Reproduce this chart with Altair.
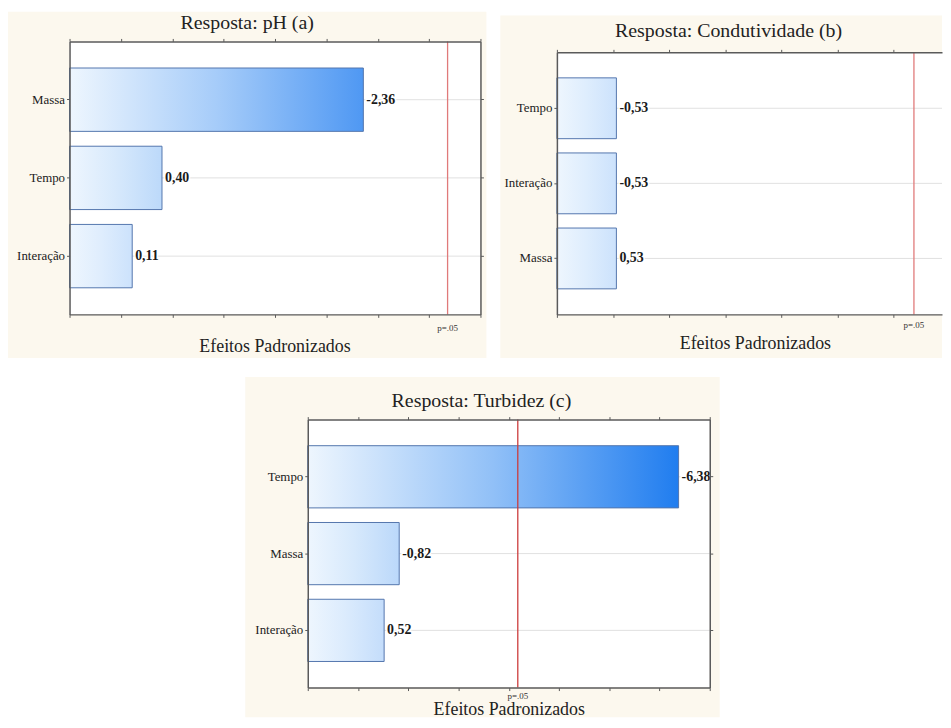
import altair as alt
import pandas as pd

# ---- data ----
a_factors = ["Massa", "Tempo", "Interação"]
a_effects = [-2.36, 0.40, 0.11]
b_factors = ["Tempo", "Interação", "Massa"]
b_effects = [-0.53, -0.53, 0.53]
c_factors = ["Tempo", "Massa", "Interação"]
c_effects = [-6.38, -0.82, 0.52]
titles = ["Resposta: pH (a)", "Resposta: Condutividade (b)", "Resposta: Turbidez (c)"]
axis_title = "Efeitos Padronizados"
p_label = "p=.05"
t_crit = 3.18
a_domain = [-0.5, 3.5]
b_domain = [0.0, 3.43]
c_domain = [-1.0, 7.0]
a_ticks = [-0.5, 0.0, 0.5, 1.0, 1.5, 2.0, 2.5, 3.0, 3.5]
b_ticks = [0.0, 0.5, 1.0, 1.5, 2.0, 2.5, 3.0]
c_ticks = [-1, 0, 1, 2, 3, 4, 5, 6, 7]

SERIF = "Liberation Serif"
BEIGE = "#fcf8ee"
AXC = "#5a5a5a"
LIGHT = (238, 246, 254)
DARK = (15, 115, 238)


def mix(f):
    f = max(0.0, min(1.0, f))
    c = [round(LIGHT[i] + (DARK[i] - LIGHT[i]) * f) for i in range(3)]
    return "#%02x%02x%02x" % tuple(c)


def grad(f):
    return alt.LinearGradient(
        gradient="linear", x1=0, x2=1, y1=0, y2=0,
        stops=[alt.GradientStop(color=mix(0.0), offset=0),
               alt.GradientStop(color=mix(f * 0.45), offset=0.5),
               alt.GradientStop(color=mix(f), offset=1)],
    )


def spacer(w, h):
    one = pd.DataFrame({"k": [0]})
    return alt.Chart(one).mark_rect(opacity=0).encode(
        x=alt.value(0), x2=alt.value(w), y=alt.value(0), y2=alt.value(h)
    ).properties(width=w, height=h)


def panel(factors, effects, title, dom, ticks, W, H, g, right_axis=True, red="#d65454"):
    df = pd.DataFrame({"fator": factors, "efeito": effects})
    df["abs"] = df["efeito"].abs()
    df["rotulo"] = [f"{v:.2f}".replace(".", ",") for v in effects]
    one = pd.DataFrame({"k": [0]})

    xs = alt.Scale(domain=dom, nice=False, zero=False)
    ys = alt.Scale(type="band", domain=factors, paddingInner=0.19, paddingOuter=0.34)
    xenc = alt.X("abs:Q", scale=xs,
                 axis=alt.Axis(title=None, labels=False, values=ticks, grid=False,
                               domain=True, domainColor=AXC, domainWidth=1.5,
                               ticks=True, tickColor=AXC, tickSize=3, zindex=1))
    yenc = alt.Y("fator:N", scale=ys, sort=factors,
                 axis=alt.Axis(title=None, grid=False, domain=True, domainColor=AXC,
                               domainWidth=1.5, ticks=True, tickColor=AXC, tickSize=3,
                               labelFont=SERIF, labelFontSize=13, labelColor="#222",
                               labelPadding=2, zindex=1))

    layers = []
    layers.append(alt.Chart(one).mark_rect(fill=BEIGE).encode(
        x=alt.value(-g["l"]), x2=alt.value(W + g["r"]),
        y=alt.value(-g["t"]), y2=alt.value(H + g["b"])))
    layers.append(alt.Chart(one).mark_rect(fill="white").encode(
        x=alt.value(0), x2=alt.value(W), y=alt.value(0), y2=alt.value(H)))
    layers.append(alt.Chart(df).mark_rule(color="#e1e1e1", strokeWidth=1).encode(
        y=yenc, x=alt.value(0), x2=alt.value(W)))
    for fac, val in zip(factors, effects):
        frac = (abs(val) - dom[0]) / (dom[1] - dom[0])
        layers.append(
            alt.Chart(df)
            .transform_filter(alt.FieldEqualPredicate(field="fator", equal=fac))
            .mark_bar(fill=grad(frac), stroke="#5476ad", strokeWidth=1)
            .encode(x=xenc, x2=alt.datum(dom[0]), y=yenc))
    layers.append(alt.Chart(one).mark_rule(color=red, strokeWidth=1.3).encode(
        x=alt.datum(t_crit), y=alt.value(0), y2=alt.value(H)))
    layers.append(alt.Chart(df).mark_text(
        align="left", baseline="middle", dx=3, font=SERIF, fontSize=14,
        fontWeight="bold", color="white", stroke="white", strokeWidth=3).encode(
        x=xenc, y=yenc, text="rotulo:N"))
    layers.append(alt.Chart(df).mark_text(
        align="left", baseline="middle", dx=3, font=SERIF, fontSize=14,
        fontWeight="bold", color="#1a1a1a").encode(x=xenc, y=yenc, text="rotulo:N"))
    layers.append(alt.Chart(one).mark_text(
        text=p_label, font=SERIF, fontSize=9, baseline="middle", align="center",
        color="#333").encode(x=alt.datum(t_crit), y=alt.value(H + g["p"])))
    layers.append(alt.Chart(one).mark_text(
        text=title, font=SERIF, fontSize=20, baseline="alphabetic", align="center",
        color="#222").encode(x=alt.value(g["tx"]), y=alt.value(g["ty"])))
    layers.append(alt.Chart(one).mark_text(
        text=axis_title, font=SERIF, fontSize=18, baseline="alphabetic", align="center",
        color="#222").encode(x=alt.value(g["ax"]), y=alt.value(H + g["ay"])))

    inner = alt.layer(*layers)

    ytop = alt.Y("fator:N", scale=ys, sort=factors,
                 axis=alt.Axis(orient="right", title=None, labels=False, grid=False,
                               domain=True, domainColor=AXC, domainWidth=1.5,
                               ticks=True, tickColor=AXC, tickSize=3, zindex=1)
                 if right_axis else None)
    tk = alt.Chart(df).mark_bar(opacity=0).encode(
        x=alt.X("abs:Q", scale=xs,
                axis=alt.Axis(orient="top", title=None, labels=False, values=ticks,
                              grid=False, domain=True, domainColor=AXC, domainWidth=1.5,
                              ticks=True, tickColor=AXC, tickSize=3, zindex=1)),
        x2=alt.datum(dom[0]),
        y=ytop)
    return (alt.layer(inner, tk)
            .resolve_scale(x="independent", y="independent")
            .properties(width=W, height=H))


Wa, Ha = 414, 275
Wb, Hb = 388, 264
Wc, Hc = 405, 270

pa = panel(a_factors, a_effects, titles[0], a_domain, a_ticks, Wa, Ha,
           dict(l=62, r=6, t=30, b=44, tx=179, ty=-13, ax=207, ay=38, p=14),
           red="#e07a7a")
pb = panel(b_factors, b_effects, titles[1], b_domain, b_ticks, Wb, Hb,
           dict(l=57, r=0, t=37, b=44, tx=173, ty=-15, ax=200, ay=35, p=11),
           right_axis=False, red="#e07a7a")
pc = panel(c_factors, c_effects, titles[2], c_domain, c_ticks, Wc, Hc,
           dict(l=63, r=10, t=43, b=30, tx=175, ty=-13, ax=203, ay=28, p=8),
           red="#cc3b3b")

col_a = alt.vconcat(spacer(1, 1), pa, spacing=0)
col_b = alt.vconcat(spacer(1, 5), pb, spacing=0)
row1 = alt.hconcat(col_a, col_b, spacing=14)
row2 = alt.hconcat(spacer(177, 1), pc, spacing=0)
chart = (alt.vconcat(row1, row2, spacing=19)
         .properties(padding=0, background="white")
         .configure_axis(labelFont=SERIF)
         .configure_view(strokeWidth=0))

chart.save("out.html", embed_options={"renderer": "svg", "actions": False})
